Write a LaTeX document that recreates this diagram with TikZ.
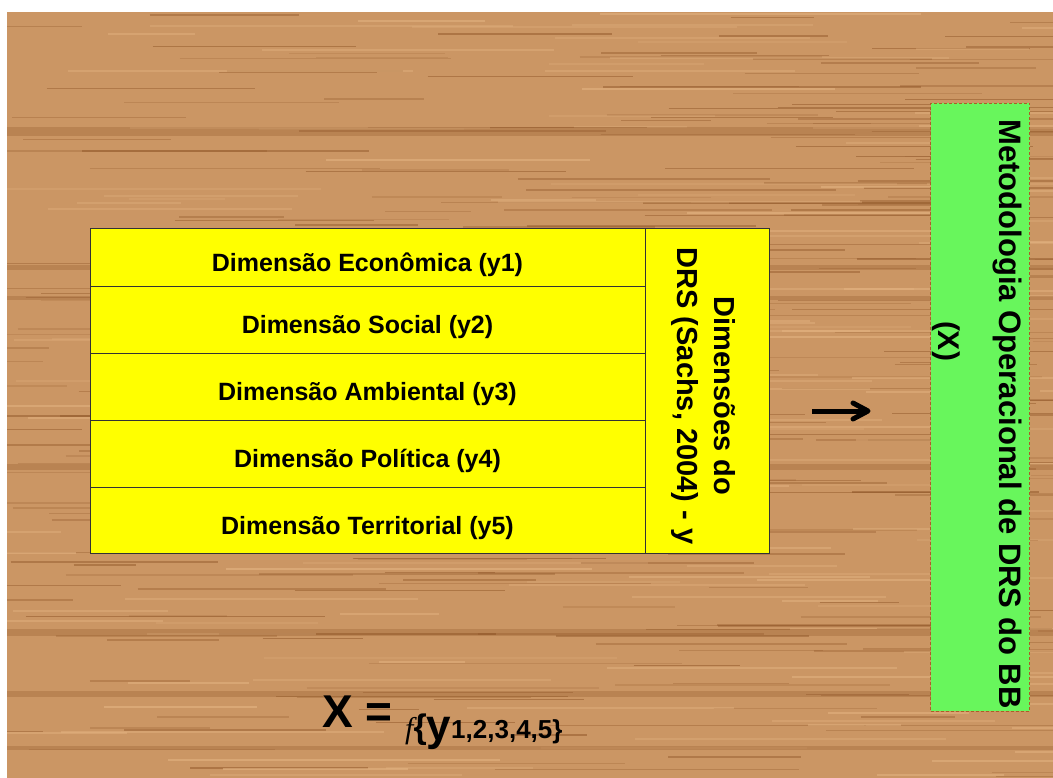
\documentclass[tikz,border=0pt]{standalone}
\usepackage{fontspec}
\setmainfont{Liberation Sans}
\newfontfamily\serifit{Liberation Serif}[ItalicFont=* Italic]
\usetikzlibrary{arrows.meta}
\definecolor{wood}{RGB}{203,150,100}
\definecolor{woodd}{RGB}{140,82,36}
\definecolor{woodl}{RGB}{228,180,130}
\definecolor{ylw}{RGB}{255,255,0}
\definecolor{grn}{RGB}{104,246,92}
\definecolor{gbord}{RGB}{170,95,40}
\tikzset{
  rowbox/.style={draw=black!80, line width=1pt, fill=ylw, minimum width=555pt, inner sep=0pt, text height=28pt, text depth=0pt, font=\fontsize{25}{25}\selectfont\bfseries},
  sidebox/.style={draw=black!80, line width=1pt, fill=ylw, minimum width=124pt, minimum height=324pt, inner sep=0pt},
  greenbox/.style={draw=gbord, dash pattern=on 3pt off 2pt, line width=0.8pt, fill=grn, minimum width=99pt, minimum height=608pt, inner sep=0pt},
  vtext/.style={rotate=-90, inner sep=0pt, font=\bfseries},
  connline/.style={draw=black, line width=5pt},
  connhead/.style={draw=black, line width=5pt, line cap=round, line join=round}
}
\begin{document}
\begin{tikzpicture}[x=1pt,y=-1pt]
\useasboundingbox (0,0) rectangle (1053,778);
\fill[white] (0,0) rectangle (1053,778);
% wood background
\begin{scope}
\clip (7,12) rectangle (1053,778);
\fill[wood] (7,12) rectangle (1053,778);
\pgfmathsetseed{7}
\foreach \i in {1,...,300}{
  \pgfmathsetmacro\yy{12+766*rnd}
  \pgfmathsetmacro\xx{-60+1100*rnd}
  \pgfmathsetmacro\ll{60+260*rnd}
  \pgfmathsetmacro\op{0.15+0.35*rnd}
  \draw[woodd, opacity=\op, line width=1.4pt] (\xx,\yy) -- ++(\ll,0);
}
\foreach \i in {1,...,160}{
  \pgfmathsetmacro\yy{12+766*rnd}
  \pgfmathsetmacro\xx{-60+1100*rnd}
  \pgfmathsetmacro\ll{80+300*rnd}
  \pgfmathsetmacro\op{0.2+0.4*rnd}
  \draw[woodl, opacity=\op, line width=2pt] (\xx,\yy) -- ++(\ll,0);
}
\foreach \yb/\wd in {132/9,268/5,298/4,467/6,632/7,694/6,748/4}{
  \draw[woodd, opacity=0.28, line width=\wd pt] (7,\yb) -- (1053,\yb);
}
\end{scope}
% table of dimensions
\node[rowbox, minimum height=58pt] (r1) at (367.5,258) {Dimensão Econômica (y1)};
\node[rowbox, minimum height=66pt] (r2) at (367.5,320) {Dimensão Social (y2)};
\node[rowbox, minimum height=67pt] (r3) at (367.5,386.5) {Dimensão Ambiental (y3)};
\node[rowbox, minimum height=67pt] (r4) at (367.5,453.5) {Dimensão Política (y4)};
\node[rowbox, minimum height=66pt] (r5) at (367.5,520) {Dimensão Territorial (y5)};
\node[sidebox] (dim) at (707,391) {};
\node[vtext, align=center, font=\fontsize{29}{37}\selectfont\bfseries] (dimt) at ([xshift=-4pt,yshift=-5pt]dim.center) {Dimensões do\\DRS (Sachs, 2004) - y};
% green box
\node[greenbox] (met) at (980,407) {};
\node[vtext, font=\fontsize{31}{31}\selectfont\bfseries] (met1) at (1007,414) {Metodologia Operacional de DRS do BB};
\node[vtext, font=\fontsize{30}{30}\selectfont\bfseries] (met2) at (946,341) {(X)};
% arrow
\coordinate (a1) at (812,411);
\coordinate (a2) at (868,411);
\draw[connline] (a1) -- (a2);
\draw[connhead] ([shift={(-15,-8)}]a2) -- (a2) -- ([shift={(-15,8)}]a2);
% formula
\node[anchor=base west, inner sep=0pt] (fx) at (322,727) {\fontsize{46}{46}\selectfont\bfseries X =};
\node[anchor=base west, inner sep=0pt] (fy) at (405,738) {{\fontsize{30}{30}\selectfont\serifit\itshape f}{\fontsize{34}{34}\selectfont\bfseries\{}\raisebox{-2pt}{\fontsize{44}{44}\selectfont\bfseries y}{\fontsize{26}{26}\selectfont\bfseries 1,2,3,4,5\}}};
\end{tikzpicture}
\end{document}
